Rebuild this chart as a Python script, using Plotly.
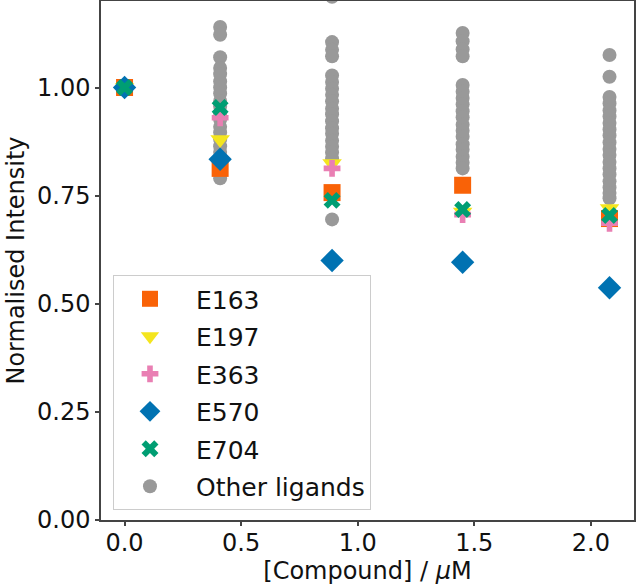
import plotly.graph_objects as go

concentrations = [0.0, 0.41, 0.89, 1.45, 2.08]

named_series = {
    "E163": [1.0, 0.813, 0.757, 0.774, 0.697],
    "E197": [1.0, 0.88, 0.824, 0.712, 0.72],
    "E363": [1.0, 0.93, 0.813, 0.706, 0.686],
    "E570": [1.0, 0.834, 0.60, 0.596, 0.537],
    "E704": [1.0, 0.954, 0.739, 0.718, 0.704],
}

other_col0 = [1.0, 1.0, 1.0]
other_col1 = [1.14, 1.122, 1.07, 1.045, 1.031, 1.014, 1.0, 0.986, 0.969, 0.956,
              0.94, 0.926, 0.909, 0.896, 0.88, 0.864, 0.851, 0.835, 0.82,
              0.806, 0.79]
other_col2 = [1.21, 1.105, 1.087, 1.072, 1.028, 1.013, 0.997, 0.983, 0.968,
              0.951, 0.938, 0.922, 0.906, 0.893, 0.877, 0.863, 0.85, 0.836,
              0.695]
other_col3 = [1.126, 1.107, 1.088, 1.072, 1.006, 0.99, 0.976, 0.961, 0.945,
              0.931, 0.914, 0.9, 0.886, 0.869, 0.856, 0.84, 0.826, 0.813]
other_col4 = [1.075, 1.025, 0.978, 0.963, 0.947, 0.933, 0.918, 0.903, 0.889,
              0.873, 0.858, 0.844, 0.828, 0.813, 0.799, 0.783, 0.769, 0.756,
              0.744]
other_cols = [other_col0, other_col1, other_col2, other_col3, other_col4]

styles = {
    "E163": dict(symbol="square", color="#F96207", size=17),
    "E197": dict(symbol="triangle-down", color="#F4E51E", size=17),
    "E363": dict(symbol="cross", color="#E97FB3", size=14),
    "E570": dict(symbol="diamond", color="#0072B2", size=18),
    "E704": dict(symbol="x", color="#009E73", size=15),
}

fig = go.Figure()

ox, oy = [], []
for c, vals in zip(concentrations, other_cols):
    for v in vals:
        ox.append(c)
        oy.append(v)

fig.add_trace(go.Scatter(
    x=ox, y=oy, mode="markers", name="Other ligands",
    marker=dict(symbol="circle", color="#999999", size=14, line=dict(width=0)),
    legendrank=1100, legendgroup="other",
))

for i, (name, vals) in enumerate(named_series.items()):
    st = styles[name]
    fig.add_trace(go.Scatter(
        x=concentrations, y=vals, mode="markers", name=name,
        marker=dict(symbol=st["symbol"], color=st["color"], size=st["size"],
                    line=dict(width=0)),
        legendrank=1000 + i, legendgroup=name,
    ))

axis_common = dict(
    showgrid=False, zeroline=False, showline=True, mirror=True,
    linecolor="#444444", linewidth=1.5, ticks="outside", ticklen=4,
    tickwidth=1.5, tickcolor="#444444", automargin=False,
    tickfont=dict(family="DejaVu Sans", size=24, color="#111111"),
)

fig.update_layout(
    width=636, height=588,
    margin=dict(l=101, r=2, t=1, b=68),
    paper_bgcolor="white", plot_bgcolor="white",
    font=dict(family="DejaVu Sans", size=24, color="#111111"),
    xaxis=dict(range=[-0.101, 2.185], tickvals=[0, 0.5, 1.0, 1.5, 2.0],
               ticktext=["0.0", "0.5", "1.0", "1.5", "2.0"],
               ticklabelstandoff=-4,
               title=dict(text="[Compound] / <i>μ</i>M", standoff=0,
                          font=dict(size=24)),
               **axis_common),
    yaxis=dict(range=[0, 1.2], tickvals=[0, 0.25, 0.5, 0.75, 1.0],
               ticktext=["0.00", "0.25", "0.50", "0.75", "1.00"],
               title=dict(text="Normalised Intensity", standoff=6,
                          font=dict(size=24)),
               **axis_common),
    legend=dict(x=0.0225, y=0.472, xanchor="left", yanchor="top",
                bordercolor="#cccccc", borderwidth=1, bgcolor="white",
                tracegroupgap=2, font=dict(size=25),
                indentation=-10, itemwidth=82),
    showlegend=True,
)

fig.write_html("out.html", config={"displayModeBar": False},
               post_script="document.body.style.margin='0';")
